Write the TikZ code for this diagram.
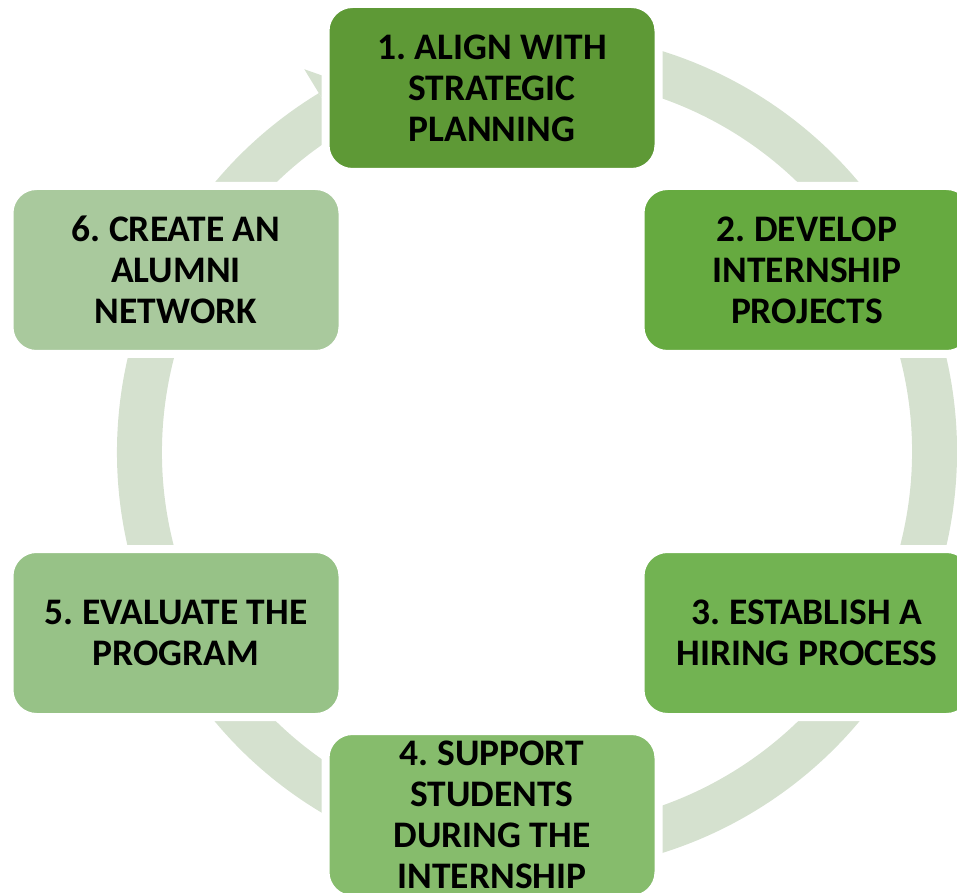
\documentclass[tikz,border=0pt]{standalone}
\usepackage{fontspec}
\setmainfont{Carlito}
\usetikzlibrary{calc}
\definecolor{band}{RGB}{213,225,207}
\definecolor{cA}{RGB}{94,153,54}
\definecolor{cB}{RGB}{102,170,64}
\definecolor{cC}{RGB}{114,179,82}
\definecolor{cD}{RGB}{134,188,108}
\definecolor{cE}{RGB}{151,194,135}
\definecolor{cF}{RGB}{169,201,157}
\frenchspacing
\begin{document}
\begin{tikzpicture}[x=1pt,y=1pt,
  box/.style={rectangle, rounded corners=27pt, draw=white, line width=8pt,
    minimum width=333pt, minimum height=168pt, align=center, text=black,
    font=\bfseries\fontsize{37.5}{41}\selectfont\frenchspacing, inner sep=0pt}]
\useasboundingbox (0,0) rectangle (957,892);
\clip (0,0) rectangle (957,892);
\coordinate (c) at (537,440);
% circular band
\fill[band] ($(c)+(121.3:420)$) arc[start angle=121.3, end angle=440, radius=420]
  -- ($(c)+(80:375)$) arc[start angle=440, end angle=121.3, radius=375] -- cycle;
% arrow head
\fill[band] ($(c)+(121.3:448)$) -- ($(c)+(115:397)$) -- ($(c)+(121.3:347)$) -- cycle;
% boxes
\node[box, fill=cA] (n1) at (492,804) {1. ALIGN WITH\\STRATEGIC\\PLANNING};
\node[box, fill=cB] (n2) at (807,622) {2. DEVELOP\\INTERNSHIP\\PROJECTS};
\node[box, fill=cC] (n3) at (807,259) {3. ESTABLISH A\\HIRING PROCESS};
\node[box, fill=cD] (n4) at (492,77) {4. SUPPORT\\STUDENTS\\DURING THE\\INTERNSHIP};
\node[box, fill=cE] (n5) at (176,259) {5. EVALUATE THE\\PROGRAM};
\node[box, fill=cF] (n6) at (176,622) {6. CREATE AN\\ALUMNI\\NETWORK};
\end{tikzpicture}
\end{document}
